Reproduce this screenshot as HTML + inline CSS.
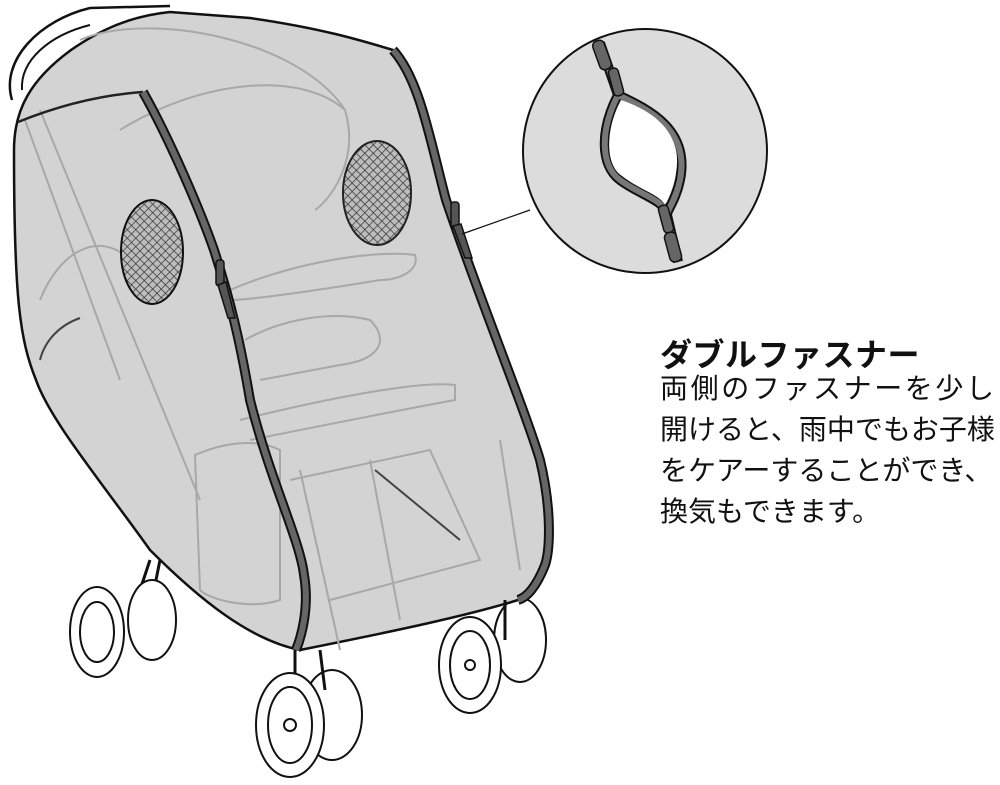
<!DOCTYPE html>
<html><head><meta charset="utf-8"><style>
html,body{margin:0;padding:0;background:#fff}
body{width:1000px;height:785px;position:relative;overflow:hidden}
.t{position:absolute;left:660px;font-family:"Liberation Sans","Noto Sans CJK JP",sans-serif;color:#111;white-space:nowrap}
.b{font-size:28px;height:41px;line-height:41px}
</style></head><body>
<svg width="1000" height="785" style="position:absolute;left:0;top:0">
<defs>
<pattern id="mesh" width="6" height="6" patternUnits="userSpaceOnUse" patternTransform="rotate(45)">
<rect width="6" height="6" fill="#bdbdbd"/>
<path d="M0 0H6M0 0V6" stroke="#333" stroke-width="1.4"/>
</pattern>
</defs>
<path d="M12 100 C0 60 40 20 90 8 L170 6" fill="none" stroke="#111" stroke-width="2.5"/>
<path d="M22 90 C20 60 50 35 90 25" fill="none" stroke="#111" stroke-width="2"/>
<path d="M150 560 L130 620 M160 560 L150 610" stroke="#111" stroke-width="3"/>
<g stroke="#111" stroke-width="2">
<ellipse cx="152" cy="620" rx="24" ry="40" fill="#fff"/>
<ellipse cx="97" cy="632" rx="27" ry="45" fill="#fff"/>
<ellipse cx="97" cy="632" rx="17" ry="30" fill="#fff"/>
<ellipse cx="520" cy="640" rx="26" ry="42" fill="#fff"/>
<ellipse cx="332" cy="715" rx="30" ry="45" fill="#fff"/>
</g>
<path d="M14 150 C14 110 30 80 71 50 C100 30 130 16 170 12 L250 18 C320 28 360 40 393 50 C420 60 430 140 446 200 C480 300 525 410 540 460 C552 510 550 550 545 565 C535 590 525 598 518 600 C470 615 400 630 300 650 C250 640 200 600 150 550 C100 480 50 420 36 380 C20 340 14 300 14 150 Z" fill="#d3d3d3" stroke="#111" stroke-width="2.5"/>
<g fill="none" stroke="#a8a8a8" stroke-width="2">
<path d="M80 40 C150 10 300 40 345 110"/>
<path d="M120 130 C200 80 300 70 345 110 C360 160 330 200 315 210"/>
<path d="M230 290 C300 260 380 250 415 255 C420 270 400 280 380 280 C320 290 250 300 230 300"/>
<path d="M240 420 C320 400 420 380 455 385 L455 400 C400 410 300 430 250 440"/>
<path d="M245 340 C280 320 330 310 370 320 C390 340 380 360 340 365 L260 380"/>
<path d="M195 455 C230 440 260 440 280 450 L280 600 C250 610 210 600 200 590 Z"/>
<path d="M290 480 L430 450 L480 560 L330 600"/>
<path d="M25 120 L120 380 M40 110 L200 500"/>
<path d="M300 470 L340 650 M370 460 L400 620 M500 440 L520 570"/>
<path d="M40 300 C60 250 100 230 130 260"/>
</g>
<path d="M40 360 C45 340 60 325 80 318" fill="none" stroke="#444" stroke-width="2"/>
<path d="M375 470 L460 540" stroke="#444" stroke-width="2"/>
<ellipse cx="152" cy="252" rx="31" ry="52" fill="url(#mesh)" stroke="#111" stroke-width="2"/>
<ellipse cx="377" cy="193" rx="34" ry="52" fill="url(#mesh)" stroke="#222" stroke-width="2"/>
<path d="M18 122 C60 105 100 95 143 92" fill="none" stroke="#222" stroke-width="2.5"/>
<path d="M143 92 C170 140 200 210 214 250 C230 300 240 340 250 400 C270 480 300 540 304 575 C310 610 300 640 296 650" fill="none" stroke="#111" stroke-width="10"/>
<path d="M143 92 C170 140 200 210 214 250 C230 300 240 340 250 400 C270 480 300 540 304 575 C310 610 300 640 296 650" fill="none" stroke="#666" stroke-width="6"/>
<path d="M393 50 C420 80 430 140 446 200 C480 300 525 410 540 460 C552 510 550 550 545 565 C535 590 525 598 518 600" fill="none" stroke="#111" stroke-width="10"/>
<path d="M393 50 C420 80 430 140 446 200 C480 300 525 410 540 460 C552 510 550 550 545 565 C535 590 525 598 518 600" fill="none" stroke="#666" stroke-width="6"/>
<g fill="#555" stroke="#111" stroke-width="1.5">
<rect x="216" y="260" width="8" height="26" rx="3"/>
<path d="M218 285 L228 318 L235 318 L226 282 Z"/>
<rect x="451" y="202" width="8" height="26" rx="3"/>
<path d="M453 226 L465 258 L472 258 L461 224 Z"/>
</g>
<path d="M295 650 L295 700 M320 650 L325 690 M505 600 L505 640" stroke="#111" stroke-width="3"/>
<g stroke="#111" stroke-width="2" fill="#fff">
<ellipse cx="290" cy="725" rx="34" ry="52"/>
<ellipse cx="290" cy="725" rx="22" ry="38"/>
<circle cx="290" cy="725" r="6"/>
<ellipse cx="470" cy="665" rx="31" ry="48"/>
<ellipse cx="470" cy="665" rx="20" ry="34"/>
<circle cx="470" cy="665" r="5"/>
</g>
<line x1="462" y1="234" x2="530" y2="210" stroke="#111" stroke-width="1.2"/>
<circle cx="645" cy="151" r="122" fill="#dcdcdc" stroke="#111" stroke-width="2"/>
<path d="M600 43 L618 95 C600 130 600 165 620 180 C640 195 665 200 667 215 L678 262" fill="none" stroke="#111" stroke-width="10"/>
<path d="M618 95 C650 110 690 130 680 180 C676 200 667 210 667 215" fill="none" stroke="#111" stroke-width="10"/>
<path d="M600 43 L618 95 C600 130 600 165 620 180 C640 195 665 200 667 215 L678 262" fill="none" stroke="#777" stroke-width="6"/>
<path d="M618 95 C650 110 690 130 680 180 C676 200 667 210 667 215" fill="none" stroke="#777" stroke-width="6"/>
<path d="M621 100 C605 130 605 165 622 176 C640 190 660 195 665 205 C672 190 680 170 676 150 C670 125 650 110 621 100 Z" fill="#fff"/>
<g fill="#666" stroke="#111" stroke-width="1.5">
<rect x="596" y="40" width="12" height="30" rx="5" transform="rotate(-20 602 55)"/>
<rect x="611" y="68" width="10" height="28" rx="4" transform="rotate(-15 616 82)"/>
<rect x="661" y="205" width="10" height="28" rx="4" transform="rotate(-15 666 219)"/>
<rect x="667" y="232" width="12" height="30" rx="5" transform="rotate(-15 673 247)"/>
</g>
</svg>
<div class="t" style="top:330px;font-size:32px;font-weight:bold;letter-spacing:0.5px">ダブルファスナー</div>
<div class="t b" style="top:368px;letter-spacing:2.6px">両側のファスナーを少し</div>
<div class="t b" style="top:409px;letter-spacing:0px">開けると、雨中でもお子様</div>
<div class="t b" style="top:450px;letter-spacing:0px">をケアーすることができ、</div>
<div class="t b" style="top:491px;letter-spacing:0px">換気もできます。</div>
</body></html>
